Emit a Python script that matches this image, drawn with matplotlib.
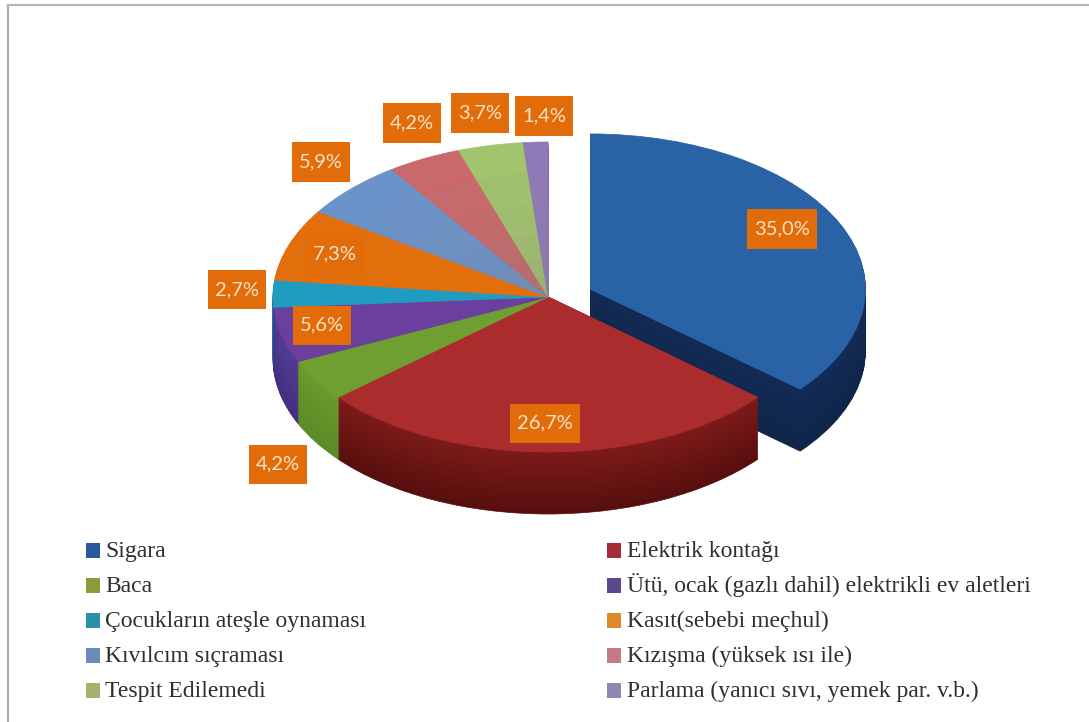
import matplotlib
matplotlib.use("Agg")
import matplotlib.pyplot as plt
from matplotlib.colors import to_rgb
from matplotlib.lines import Line2D
from matplotlib.patches import Rectangle

# ---- data ----
categories = ["Sigara", "Elektrik kontağı", "Baca",
              "Ütü, ocak (gazlı dahil) elektrikli ev aletleri",
              "Çocukların ateşle oynaması", "Kasıt(sebebi meçhul)",
              "Kıvılcım sıçraması", "Kızışma (yüksek ısı ile)",
              "Tespit Edilemedi", "Parlama (yanıcı sıvı, yemek par. v.b.)"]
values = [35.0, 26.7, 4.2, 5.6, 2.7, 7.3, 5.9, 4.2, 3.7, 1.4]
value_labels = ["35,0%", "26,7%", "4,2%", "5,6%", "2,7%", "7,3%", "5,9%", "4,2%", "3,7%", "1,4%"]

# ---- styles ----
top_colors = ["#2a62a6", "#aa2c2c", "#6f9f30", "#6a3f9e", "#1f9cbf",
              "#e36f0c", "#6b93c9", "#c9696c", "#a3c46e", "#8f7ab8"]
side_hi = ["#132b55", "#7d1b19", "#6a9a2c", "#503c94", "#1a7f9e",
           "#b85c0c", "#55769f", "#a05356", "#84a058", "#725f96"]
side_lo = ["#10254a", "#560f0d", "#5c8a26", "#443080", "#15708c",
           "#a0500a", "#4a688c", "#8c484b", "#748c4c", "#645384"]
legend_colors = ["#2a5a9c", "#a52a3a", "#8a9c3c", "#5a4a8c", "#2a90aa",
                 "#dc8a2c", "#6a8cb8", "#c47a80", "#a4b46e", "#8c88b4"]
explode = [0.17] + [0] * 9
label_xy = [(782, 229), (545, 423), (278, 464), (322, 325), (237, 290),
            (335, 254), (321, 162), (412, 123), (480, 113), (544, 116)]

W, H = 1089, 722
CX, CY, RX, RY, DEPTH = 548, 297, 275, 155, 62
BLUE_DROP = 3  # px, extra downward shift of the exploded slice


def blend(a, b, t):
    a, b = to_rgb(a), to_rgb(b)
    return tuple(x * (1 - t) + y * t for x, y in zip(a, b))


fig = plt.figure(figsize=(W / 100, H / 100), dpi=100, facecolor="white")
ax = fig.add_axes([0, 0, 1, 1])


def draw(colors, radius, offset_px, z):
    wedges, _ = ax.pie(values, colors=colors, startangle=90, counterclock=False,
                       explode=explode, radius=radius,
                       center=(0, -offset_px / RY), normalize=True)
    for i, w in enumerate(wedges):
        w.set_edgecolor(w.get_facecolor())
        w.set_linewidth(0.5)
        w.set_zorder(z - (1000 if i == 0 else 0))
    cx0, cy0 = wedges[0].center
    wedges[0].set_center((cx0, cy0 - BLUE_DROP / RY))
    return wedges


# extruded sides, from the bottom layer up
for k in range(DEPTH, 0, -1):
    t = k / DEPTH
    draw([blend(h, l, t) for h, l in zip(side_hi, side_lo)], 1.0, k, 100 + DEPTH - k)

# top face
draw(top_colors, 1.0, 0, 300)
for n, r in enumerate([0.8, 0.6, 0.4, 0.25, 0.12]):
    draw([blend(c, "#7a7a7a", 0.05 * (n + 1)) if i > 5 else c
          for i, c in enumerate(top_colors)], r, 0, 301 + n)

ax.set_aspect("auto")
ax.set_xlim(-CX / RX, (W - CX) / RX)
ax.set_ylim((CY - H) / RY, CY / RY)
ax.axis("off")


def add_px_rect(x0, y0, w, h, color, z):
    fig.add_artist(Rectangle((x0 / W, 1 - (y0 + h) / H), w / W, h / H, fc=color, ec="none",
                             transform=fig.transFigure, zorder=z))


# data labels
for txt, (px, py) in zip(value_labels, label_xy):
    bw = 70 if len(txt) > 4 else 58
    add_px_rect(px - bw / 2, py - 19.5, bw, 39, "#e36c0a", 15)
    fig.text(px / W, 1 - py / H, txt, ha="center", va="center", zorder=20,
             fontsize=14.5, family="Lato", color="#f8e2c8")

# legend: two columns with fixed row pitch
for col, (x_box, x_txt) in enumerate(((86, 105), (607, 627))):
    for row in range(5):
        i = row * 2 + col
        yc = 550 + 35 * row
        add_px_rect(x_box, yc - 7, 14, 15, legend_colors[i], 15)
        fig.text(x_txt / W, 1 - (yc + 7) / H, categories[i], ha="left", va="baseline",
                 zorder=20, family="Liberation Serif", fontsize=17, color="#2f2f2f")

# frame remains (top and left only)
fig.add_artist(Line2D([8 / W, 8 / W], [0, 1 - 5 / H], color="#b8a8ae", lw=1.6))
fig.add_artist(Line2D([8 / W, 1], [1 - 5 / H, 1 - 5 / H], color="#bdb2b6", lw=1.6))

fig.savefig("out.png", dpi=100, facecolor="white")
